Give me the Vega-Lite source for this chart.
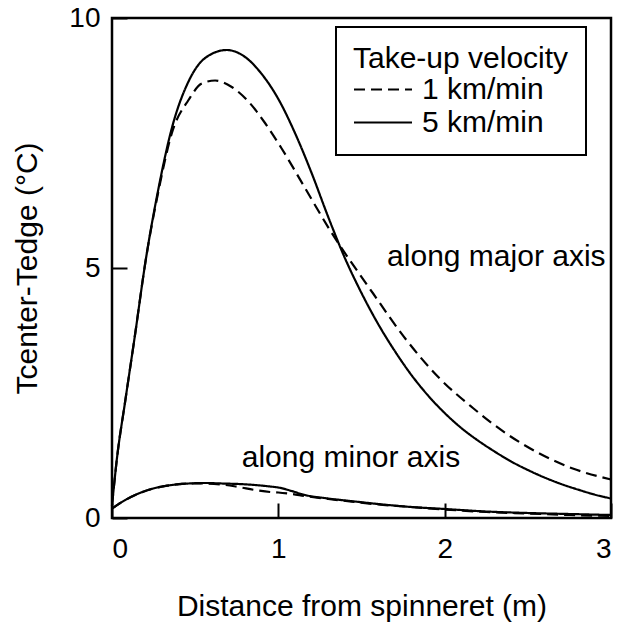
{
  "$schema": "https://vega.github.io/schema/vega-lite/v6.json",
  "width": 499,
  "height": 500,
  "autosize": {"type": "none"},
  "padding": {"left": 112, "top": 18, "right": 10, "bottom": 108},
  "background": "white",
  "config": {
    "font": "Liberation Sans",
    "view": {"stroke": "black", "strokeWidth": 2.5},
    "axis": {"grid": false, "domain": false, "labelFontSize": 28, "titleFontSize": 30, "labelColor": "black", "titleColor": "black", "titleFontWeight": "normal", "tickColor": "black", "tickWidth": 2}
  },
  "datasets": {
    "curves": [
      {"axis": "major", "velocity": "5 km/min", "x": 0, "y": 0.25},
      {"axis": "major", "velocity": "5 km/min", "x": 0.03, "y": 1.2},
      {"axis": "major", "velocity": "5 km/min", "x": 0.08, "y": 2.35},
      {"axis": "major", "velocity": "5 km/min", "x": 0.14, "y": 3.7},
      {"axis": "major", "velocity": "5 km/min", "x": 0.2, "y": 5.1},
      {"axis": "major", "velocity": "5 km/min", "x": 0.28, "y": 6.6},
      {"axis": "major", "velocity": "5 km/min", "x": 0.36, "y": 7.8},
      {"axis": "major", "velocity": "5 km/min", "x": 0.46, "y": 8.73},
      {"axis": "major", "velocity": "5 km/min", "x": 0.56, "y": 9.2},
      {"axis": "major", "velocity": "5 km/min", "x": 0.69, "y": 9.36},
      {"axis": "major", "velocity": "5 km/min", "x": 0.8, "y": 9.22},
      {"axis": "major", "velocity": "5 km/min", "x": 0.9, "y": 8.88},
      {"axis": "major", "velocity": "5 km/min", "x": 1.0, "y": 8.38},
      {"axis": "major", "velocity": "5 km/min", "x": 1.1, "y": 7.7},
      {"axis": "major", "velocity": "5 km/min", "x": 1.2, "y": 6.9},
      {"axis": "major", "velocity": "5 km/min", "x": 1.3, "y": 6.02},
      {"axis": "major", "velocity": "5 km/min", "x": 1.4, "y": 5.2},
      {"axis": "major", "velocity": "5 km/min", "x": 1.5, "y": 4.5},
      {"axis": "major", "velocity": "5 km/min", "x": 1.6, "y": 3.88},
      {"axis": "major", "velocity": "5 km/min", "x": 1.7, "y": 3.34},
      {"axis": "major", "velocity": "5 km/min", "x": 1.8, "y": 2.86},
      {"axis": "major", "velocity": "5 km/min", "x": 1.9, "y": 2.45},
      {"axis": "major", "velocity": "5 km/min", "x": 2.0, "y": 2.1},
      {"axis": "major", "velocity": "5 km/min", "x": 2.1, "y": 1.8},
      {"axis": "major", "velocity": "5 km/min", "x": 2.2, "y": 1.55},
      {"axis": "major", "velocity": "5 km/min", "x": 2.3, "y": 1.33},
      {"axis": "major", "velocity": "5 km/min", "x": 2.4, "y": 1.13},
      {"axis": "major", "velocity": "5 km/min", "x": 2.5, "y": 0.96},
      {"axis": "major", "velocity": "5 km/min", "x": 2.6, "y": 0.81},
      {"axis": "major", "velocity": "5 km/min", "x": 2.7, "y": 0.68},
      {"axis": "major", "velocity": "5 km/min", "x": 2.8, "y": 0.57},
      {"axis": "major", "velocity": "5 km/min", "x": 2.9, "y": 0.47},
      {"axis": "major", "velocity": "5 km/min", "x": 3.0, "y": 0.39},
      {"axis": "major", "velocity": "1 km/min", "x": 0, "y": 0.25},
      {"axis": "major", "velocity": "1 km/min", "x": 0.03, "y": 1.2},
      {"axis": "major", "velocity": "1 km/min", "x": 0.08, "y": 2.35},
      {"axis": "major", "velocity": "1 km/min", "x": 0.14, "y": 3.7},
      {"axis": "major", "velocity": "1 km/min", "x": 0.2, "y": 5.1},
      {"axis": "major", "velocity": "1 km/min", "x": 0.28, "y": 6.55},
      {"axis": "major", "velocity": "1 km/min", "x": 0.36, "y": 7.7},
      {"axis": "major", "velocity": "1 km/min", "x": 0.46, "y": 8.36},
      {"axis": "major", "velocity": "1 km/min", "x": 0.54, "y": 8.69},
      {"axis": "major", "velocity": "1 km/min", "x": 0.62, "y": 8.75},
      {"axis": "major", "velocity": "1 km/min", "x": 0.72, "y": 8.62},
      {"axis": "major", "velocity": "1 km/min", "x": 0.82, "y": 8.33},
      {"axis": "major", "velocity": "1 km/min", "x": 0.92, "y": 7.9},
      {"axis": "major", "velocity": "1 km/min", "x": 1.02, "y": 7.39},
      {"axis": "major", "velocity": "1 km/min", "x": 1.15, "y": 6.66},
      {"axis": "major", "velocity": "1 km/min", "x": 1.31, "y": 5.76},
      {"axis": "major", "velocity": "1 km/min", "x": 1.57, "y": 4.49},
      {"axis": "major", "velocity": "1 km/min", "x": 1.77, "y": 3.56},
      {"axis": "major", "velocity": "1 km/min", "x": 1.97, "y": 2.79},
      {"axis": "major", "velocity": "1 km/min", "x": 2.17, "y": 2.2},
      {"axis": "major", "velocity": "1 km/min", "x": 2.37, "y": 1.69},
      {"axis": "major", "velocity": "1 km/min", "x": 2.57, "y": 1.29},
      {"axis": "major", "velocity": "1 km/min", "x": 2.77, "y": 0.99},
      {"axis": "major", "velocity": "1 km/min", "x": 3.0, "y": 0.77},
      {"axis": "minor", "velocity": "5 km/min", "x": 0, "y": 0.19},
      {"axis": "minor", "velocity": "5 km/min", "x": 0.08, "y": 0.36},
      {"axis": "minor", "velocity": "5 km/min", "x": 0.16, "y": 0.49},
      {"axis": "minor", "velocity": "5 km/min", "x": 0.26, "y": 0.6},
      {"axis": "minor", "velocity": "5 km/min", "x": 0.36, "y": 0.66},
      {"axis": "minor", "velocity": "5 km/min", "x": 0.46, "y": 0.69},
      {"axis": "minor", "velocity": "5 km/min", "x": 0.56, "y": 0.7},
      {"axis": "minor", "velocity": "5 km/min", "x": 0.66, "y": 0.69},
      {"axis": "minor", "velocity": "5 km/min", "x": 0.76, "y": 0.68},
      {"axis": "minor", "velocity": "5 km/min", "x": 0.86, "y": 0.66},
      {"axis": "minor", "velocity": "5 km/min", "x": 0.95, "y": 0.63},
      {"axis": "minor", "velocity": "5 km/min", "x": 1.0, "y": 0.61},
      {"axis": "minor", "velocity": "5 km/min", "x": 1.08, "y": 0.54},
      {"axis": "minor", "velocity": "5 km/min", "x": 1.16, "y": 0.46},
      {"axis": "minor", "velocity": "5 km/min", "x": 1.3, "y": 0.39},
      {"axis": "minor", "velocity": "5 km/min", "x": 1.46, "y": 0.33},
      {"axis": "minor", "velocity": "5 km/min", "x": 1.6, "y": 0.28},
      {"axis": "minor", "velocity": "5 km/min", "x": 1.76, "y": 0.23},
      {"axis": "minor", "velocity": "5 km/min", "x": 2.0, "y": 0.18},
      {"axis": "minor", "velocity": "5 km/min", "x": 2.25, "y": 0.13},
      {"axis": "minor", "velocity": "5 km/min", "x": 2.5, "y": 0.1},
      {"axis": "minor", "velocity": "5 km/min", "x": 2.75, "y": 0.08},
      {"axis": "minor", "velocity": "5 km/min", "x": 3.0, "y": 0.06},
      {"axis": "minor", "velocity": "1 km/min", "x": 0, "y": 0.19},
      {"axis": "minor", "velocity": "1 km/min", "x": 0.08, "y": 0.36},
      {"axis": "minor", "velocity": "1 km/min", "x": 0.16, "y": 0.49},
      {"axis": "minor", "velocity": "1 km/min", "x": 0.26, "y": 0.6},
      {"axis": "minor", "velocity": "1 km/min", "x": 0.36, "y": 0.66},
      {"axis": "minor", "velocity": "1 km/min", "x": 0.46, "y": 0.69},
      {"axis": "minor", "velocity": "1 km/min", "x": 0.56, "y": 0.69},
      {"axis": "minor", "velocity": "1 km/min", "x": 0.66, "y": 0.67},
      {"axis": "minor", "velocity": "1 km/min", "x": 0.76, "y": 0.62},
      {"axis": "minor", "velocity": "1 km/min", "x": 0.86, "y": 0.56},
      {"axis": "minor", "velocity": "1 km/min", "x": 0.95, "y": 0.52},
      {"axis": "minor", "velocity": "1 km/min", "x": 1.0, "y": 0.51},
      {"axis": "minor", "velocity": "1 km/min", "x": 1.08, "y": 0.48},
      {"axis": "minor", "velocity": "1 km/min", "x": 1.16, "y": 0.44},
      {"axis": "minor", "velocity": "1 km/min", "x": 1.3, "y": 0.38},
      {"axis": "minor", "velocity": "1 km/min", "x": 1.46, "y": 0.32},
      {"axis": "minor", "velocity": "1 km/min", "x": 1.6, "y": 0.27},
      {"axis": "minor", "velocity": "1 km/min", "x": 1.76, "y": 0.23},
      {"axis": "minor", "velocity": "1 km/min", "x": 2.0, "y": 0.17},
      {"axis": "minor", "velocity": "1 km/min", "x": 2.25, "y": 0.12},
      {"axis": "minor", "velocity": "1 km/min", "x": 2.5, "y": 0.09},
      {"axis": "minor", "velocity": "1 km/min", "x": 2.75, "y": 0.06},
      {"axis": "minor", "velocity": "1 km/min", "x": 3.0, "y": 0.04}
    ],
    "labels": [
      {"label": "along major axis", "x": 1.654, "y": 5.04},
      {"label": "along minor axis", "x": 0.78, "y": 1.02}
    ]
  },
  "layer": [
    {
      "data": {"name": "curves"},
      "mark": {"type": "line", "interpolate": "monotone", "strokeWidth": 2.2, "color": "black"},
      "encoding": {
        "x": {"field": "x", "type": "quantitative", "scale": {"domain": [0, 3], "nice": false},
          "axis": {"values": [0, 1, 2, 3], "format": "d", "tickSize": -15, "labelPadding": 32, "title": "Distance from spinneret (m)", "titlePadding": 28}},
        "y": {"field": "y", "type": "quantitative", "scale": {"domain": [0, 10], "nice": false},
          "axis": {"values": [0, 5, 10], "format": "d", "tickSize": -15, "labelPadding": 27, "title": "Tcenter-Tedge (°C)", "titlePadding": 26}},
        "strokeDash": {"field": "velocity", "type": "nominal",
          "scale": {"domain": ["1 km/min", "5 km/min"], "range": [[11, 6], [1, 0]]},
          "legend": {"orient": "none", "legendX": 224, "legendY": 9, "title": "Take-up velocity",
            "titleFontSize": 30, "titleFontWeight": "normal", "titleColor": "black", "titlePadding": 0, "titleLimit": 400,
            "labelFontSize": 30, "labelColor": "black", "labelOffset": 38, "labelLimit": 400,
            "symbolType": "M-1,0H3", "symbolSize": 841, "symbolStrokeWidth": 2, "symbolStrokeColor": "black",
            "rowPadding": 2, "padding": 17, "strokeColor": "black", "fillColor": "white",
            "encode": {"legend": {"update": {"strokeWidth": {"value": 2}}}}}},
        "detail": {"field": "axis"}
      }
    },
    {
      "data": {"name": "labels"},
      "mark": {"type": "text", "align": "left", "baseline": "alphabetic", "fontSize": 30, "color": "black"},
      "encoding": {
        "x": {"field": "x", "type": "quantitative"},
        "y": {"field": "y", "type": "quantitative"},
        "text": {"field": "label"}
      }
    }
  ]
}
